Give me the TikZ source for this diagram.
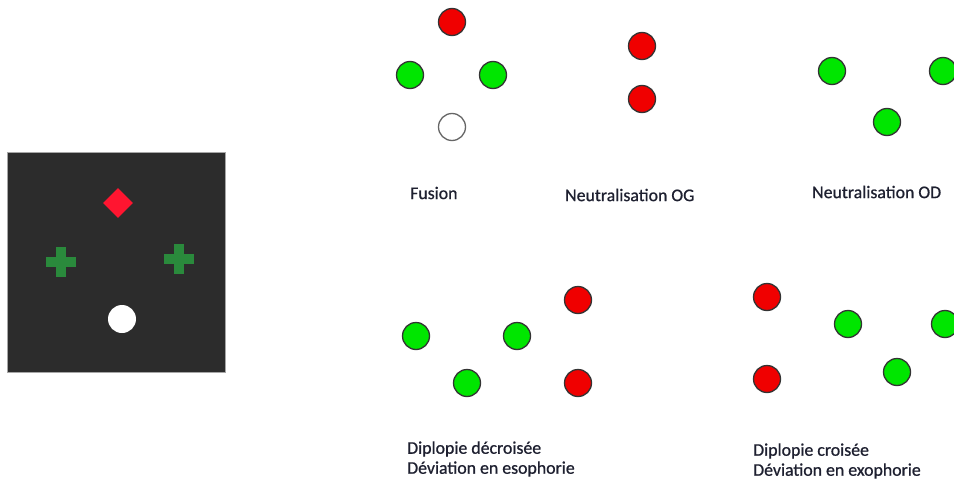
\documentclass[tikz,border=0pt]{standalone}
\usepackage{fontspec}
\setmainfont{Carlito}
\newfontfamily\captionface[FakeBold=0.8]{Carlito}
\usetikzlibrary{shapes.geometric}
\definecolor{dotred}{HTML}{F00000}
\definecolor{dotgreen}{HTML}{00E600}
\definecolor{dotedge}{HTML}{333333}
\definecolor{screen}{HTML}{2C2C2C}
\definecolor{crossgreen}{HTML}{2A8A3C}
\definecolor{markred}{HTML}{FF1530}
\definecolor{captioncol}{HTML}{1E2030}
\tikzset{
  dot/.style={circle, draw=dotedge, line width=1.3pt, minimum size=27pt, inner sep=0pt},
  reddot/.style={dot, fill=dotred},
  greendot/.style={dot, fill=dotgreen},
  whitedot/.style={dot, draw=gray!80!black, fill=white},
  caption/.style={anchor=west, font=\captionface\fontsize{17.8}{20}\selectfont, text=captioncol, inner sep=0pt, align=left},
  crossbar/.style={fill=crossgreen, draw=none, inner sep=0pt},
}
\begin{document}
\begin{tikzpicture}[x=1pt, y=-1pt]
\useasboundingbox[fill=white] (0,0) rectangle (954,479);

% test screen with the fixation marks
\node[fill=screen, draw=gray!70, line width=0.6pt, minimum width=218pt, minimum height=220pt, inner sep=0pt] (screen) at (116,262) {};
\node[diamond, fill=markred, minimum width=30pt, minimum height=30pt, inner sep=0pt] (mark) at (118,203) {};
\node[crossbar, minimum width=30pt, minimum height=10pt] (crossLh) at (61,262) {};
\node[crossbar, minimum width=10pt, minimum height=30pt] (crossLv) at (61,262) {};
\node[crossbar, minimum width=30pt, minimum height=10pt] (crossRh) at (179,259) {};
\node[crossbar, minimum width=10pt, minimum height=30pt] (crossRv) at (179,259) {};
\node[circle, fill=white, minimum size=28pt, inner sep=0pt] (spot) at (122,319) {};

% Fusion
\node[reddot] (fr) at (452,22) {};
\node[greendot] (fgl) at (410,75) {};
\node[greendot] (fgr) at (493,75) {};
\node[whitedot] (fw) at (452,127) {};
\node[caption] (tfus) at (410,193) {Fusion};

% Neutralisation OG
\node[reddot] (gr1) at (642,46) {};
\node[reddot] (gr2) at (642,99) {};
\node[caption] (tog) at (565,195) {Neutralisation OG};

% Neutralisation OD
\node[greendot] (dg1) at (832,71) {};
\node[greendot] (dg2) at (943,71) {};
\node[greendot] (dg3) at (887,122) {};
\node[caption] (tod) at (812,192) {Neutralisation OD};

% Diplopie decroisee
\node[reddot] (ur1) at (578,300) {};
\node[greendot] (ug1) at (416,336) {};
\node[greendot] (ug2) at (517,336) {};
\node[greendot] (ug3) at (467,383) {};
\node[reddot] (ur2) at (578,383) {};
\node[caption] (tunc) at (407,459) {Diplopie décroisée\\Déviation en esophorie};

% Diplopie croisee
\node[reddot] (cr1) at (767,297) {};
\node[greendot] (cg1) at (848,324) {};
\node[greendot] (cg2) at (945,324) {};
\node[reddot] (cr2) at (767,379) {};
\node[greendot] (cg3) at (897,372) {};
\node[caption] (tcr) at (753,461) {Diplopie croisée\\Déviation en exophorie};
\end{tikzpicture}
\end{document}
